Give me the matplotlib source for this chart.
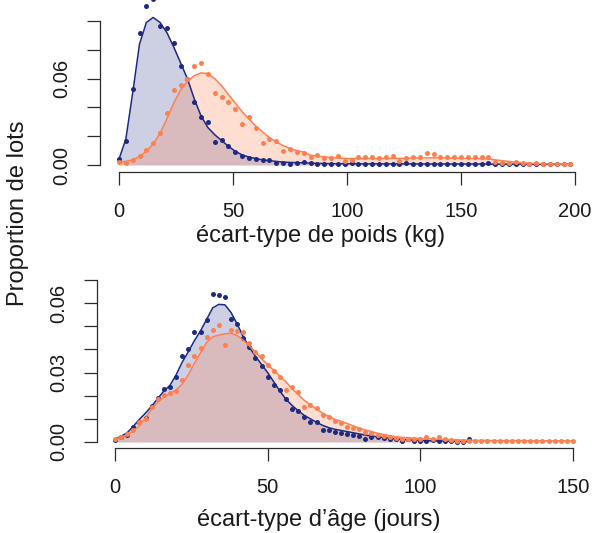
import numpy as np
import matplotlib
matplotlib.use("Agg")
import matplotlib.pyplot as plt

plt.rcParams['font.family'] = ['Liberation Sans', 'DejaVu Sans']

# ---------------- data: weight panel (step 3 kg) ----------------
poids_x = np.arange(0, 199, 3)
poids_bleu = [0.004, 0.0167, 0.053, 0.0915, 0.1106, 0.1155, 0.0968, 0.095, 0.0845, 0.069,
              0.060, 0.044, 0.033, 0.0296, 0.0157, 0.0174, 0.0134, 0.0088, 0.0063, 0.005,
              0.0042, 0.0035, 0.0035, 0.0012, 0.0012, 0.0005, 0.0012, 0.0022, 0.0015, 0.0005,
              0.0005, 0.0005, 0.0008, 0.001, 0.0015, 0.0005, 0.0005, 0.0005, 0.0005, 0.0005,
              0.0005, 0.0005, 0.0016, 0.0005, 0.0005, 0.0005, 0.0005, 0.0005, 0.0005, 0.0005,
              0.0005, 0.0005, 0.0005, 0.0005, 0.0012, 0.0004, 0.0004, 0.0004, 0.0004, 0.0004,
              0.0004, 0.0004, 0.0004, 0.0004, 0.0004, 0.0004, 0.0004]
poids_bleu_lisse = [0.004, 0.018, 0.050, 0.084, 0.099, 0.1025, 0.099, 0.092, 0.082, 0.071,
                    0.060, 0.046, 0.034, 0.026, 0.021, 0.017, 0.013, 0.0095, 0.007, 0.0055,
                    0.0045, 0.0035, 0.003, 0.0025, 0.002, 0.0018, 0.0016, 0.0015, 0.0013, 0.0011,
                    0.001, 0.0009, 0.0009, 0.0009, 0.0009, 0.0008, 0.0008, 0.0008, 0.0008, 0.0008,
                    0.0008, 0.0008, 0.0008, 0.0008, 0.0007, 0.0007, 0.0007, 0.0007, 0.0007, 0.0007,
                    0.0007, 0.0007, 0.0007, 0.0007, 0.0006, 0.0006, 0.0006, 0.0006, 0.0006, 0.0006,
                    0.0006, 0.0005, 0.0005, 0.0005, 0.0005, 0.0005, 0.0005]
poids_orange = [0.0023, 0.0016, 0.0035, 0.0063, 0.0104, 0.0155, 0.022, 0.036, 0.052, 0.0556,
                0.0597, 0.069, 0.071, 0.063, 0.050, 0.047, 0.044, 0.039, 0.0285, 0.033,
                0.026, 0.015, 0.0183, 0.017, 0.010, 0.011, 0.0092, 0.008, 0.0055, 0.0067,
                0.0048, 0.0048, 0.006, 0.003, 0.0035, 0.0058, 0.0058, 0.0058, 0.0046, 0.0058,
                0.0063, 0.003, 0.005, 0.0053, 0.0058, 0.0086, 0.0074, 0.0053, 0.0058, 0.0053,
                0.0058, 0.0053, 0.0058, 0.0053, 0.0053, 0.0023, 0.0016, 0.0016, 0.0023, 0.0012,
                0.0007, 0.0016, 0.0007, 0.0007, 0.0007, 0.0007, 0.0005]
poids_orange_lisse = [0.002, 0.0025, 0.0035, 0.006, 0.0095, 0.0145, 0.022, 0.032, 0.043, 0.052,
                      0.058, 0.062, 0.064, 0.0635, 0.060, 0.055, 0.049, 0.043, 0.037, 0.032,
                      0.027, 0.023, 0.019, 0.016, 0.0135, 0.0115, 0.010, 0.009, 0.0068, 0.0062,
                      0.0056, 0.0052, 0.0048, 0.0046, 0.0045, 0.0045, 0.0045, 0.0045, 0.0045, 0.0046,
                      0.0046, 0.0046, 0.0047, 0.0048, 0.0049, 0.005, 0.005, 0.0049, 0.0048, 0.0047,
                      0.0046, 0.0046, 0.0045, 0.0044, 0.0042, 0.0036, 0.003, 0.0025, 0.002, 0.0015,
                      0.0012, 0.001, 0.0009, 0.0008, 0.0007, 0.0006, 0.0006]

# ---------------- data: age panel (step 2 days) ----------------
age_x = np.arange(0, 151, 2)
age_bleu = [0.001, 0.002, 0.003, 0.0063, 0.0088, 0.0102, 0.0156, 0.019, 0.0228, 0.0239,
            0.028, 0.0372, 0.0402, 0.0477, 0.0474, 0.0527, 0.0638, 0.0636, 0.0625, 0.053,
            0.051, 0.0448, 0.041, 0.0364, 0.0328, 0.0282, 0.0246, 0.0225, 0.0185, 0.0141,
            0.0135, 0.0109, 0.0085, 0.0085, 0.0052, 0.0052, 0.0045, 0.0038, 0.0036, 0.003,
            0.0027, 0.0012, 0.0023, 0.002, 0.0017, 0.0012, 0.0012, 0.0003, 0.0012, 0.0005,
            0.0005, 0.0005, 0.0008, 0.0005, 0.0005, 0.0003, 0.0, 0.0, 0.0012]
age_bleu_lisse = [0.0012, 0.0025, 0.004, 0.0068, 0.0098, 0.0125, 0.0155, 0.0188, 0.022, 0.0245,
                  0.029, 0.0345, 0.039, 0.0438, 0.048, 0.053, 0.058, 0.0595, 0.0593, 0.056,
                  0.051, 0.0455, 0.041, 0.037, 0.0335, 0.030, 0.026, 0.022, 0.0185, 0.0158,
                  0.0135, 0.0115, 0.010, 0.0085, 0.0072, 0.0062, 0.0055, 0.005, 0.0045, 0.004,
                  0.0035, 0.003, 0.0026, 0.0022, 0.0019, 0.0016, 0.0013, 0.0011, 0.0009, 0.0008,
                  0.0007, 0.0006, 0.0005, 0.0005, 0.0004, 0.0003, 0.0003, 0.0002, 0.0002]
age_orange = [0.0012, 0.0023, 0.0035, 0.0052, 0.0085, 0.0100, 0.0150, 0.0185, 0.0203, 0.0213,
              0.0222, 0.0268, 0.0333, 0.0372, 0.0405, 0.0455, 0.0484, 0.0506, 0.0418, 0.0486,
              0.048, 0.0474, 0.043, 0.039, 0.037, 0.0333, 0.0307, 0.028, 0.0225, 0.0236,
              0.0217, 0.0153, 0.0158, 0.0146, 0.0117, 0.0107, 0.0092, 0.008, 0.0066, 0.0059,
              0.0055, 0.0042, 0.0038, 0.003, 0.0025, 0.0022, 0.0018, 0.0014, 0.0012, 0.0012,
              0.0015, 0.002, 0.0015, 0.0023, 0.0015, 0.001, 0.0005, 0.0005, 0.0005, 0.0005,
              0.0005, 0.0005, 0.0005, 0.0005, 0.0005, 0.0005, 0.0005, 0.0005, 0.0005, 0.0005,
              0.0005, 0.0005, 0.0005, 0.0005, 0.0005, 0.0005]
age_orange_lisse = [0.0012, 0.002, 0.003, 0.0048, 0.007, 0.0105, 0.0142, 0.0172, 0.0193, 0.021,
                    0.0225, 0.025, 0.029, 0.034, 0.0385, 0.043, 0.0455, 0.0462, 0.0468, 0.047,
                    0.046, 0.044, 0.0415, 0.039, 0.036, 0.0335, 0.031, 0.0285, 0.026, 0.023,
                    0.0205, 0.018, 0.016, 0.0142, 0.0125, 0.011, 0.0098, 0.009, 0.008, 0.007,
                    0.006, 0.0052, 0.0045, 0.0038, 0.0032, 0.0027, 0.0023, 0.002, 0.0018, 0.0016,
                    0.0015, 0.0014, 0.0013, 0.0012, 0.0011, 0.001, 0.0009, 0.0008, 0.0008, 0.0007,
                    0.0007, 0.0007, 0.0006, 0.0006, 0.0006, 0.0006, 0.0006, 0.0006, 0.0005, 0.0005,
                    0.0005, 0.0005, 0.0005, 0.0005, 0.0005, 0.0005]

BLEU = '#1d2a80'
ORANGE = '#ff7f4f'
AXE = '#2b2b2b'

W, H = 596, 533
fig = plt.figure(figsize=(W / 100, H / 100), dpi=100)


def panneau(rect, x, bleu, bleu_l, orange, orange_l, xlim, ylim, xticks, yticks, ylabels):
    l, t, r, b = rect
    ax = fig.add_axes([l / W, 1 - b / H, (r - l) / W, (b - t) / H])
    xb = x[:len(bleu)]
    ax.fill_between(xb, 0, bleu_l, color=BLEU, alpha=0.22, lw=0)
    ax.fill_between(x, 0, orange_l, color=ORANGE, alpha=0.25, lw=0)
    ax.plot(xb, bleu_l, color=BLEU, lw=1.1)
    ax.plot(xb, bleu, 'o', color=BLEU, ms=3.6, mew=0)
    ax.plot(x, orange_l, color=ORANGE, lw=1.1)
    ax.plot(x, orange, 'o', color=ORANGE, ms=3.6, mew=0)
    ax.set_xlim(*xlim)
    ax.set_ylim(*ylim)
    for s in ['top', 'right']:
        ax.spines[s].set_visible(False)
    for s in ['left', 'bottom']:
        ax.spines[s].set_color(AXE)
        ax.spines[s].set_linewidth(0.9)
    ax.spines['bottom'].set_bounds(xticks[0], xticks[-1])
    ax.spines['left'].set_bounds(yticks[0], yticks[-1])
    ax.set_xticks(xticks)
    ax.set_xticklabels([str(v) for v in xticks])
    ax.set_yticks(yticks)
    ax.set_yticklabels(ylabels, rotation=90, va='center')
    ax.tick_params(axis='both', length=9.4, width=0.9, color=AXE,
                   labelsize=14.5, labelcolor='#1a1a1a')
    ax.tick_params(axis='x', pad=12)
    ax.tick_params(axis='y', pad=11.5)
    ax.patch.set_alpha(0)
    return ax


panneau((100, 0, 593, 172), poids_x, poids_bleu, poids_bleu_lisse,
        poids_orange, poids_orange_lisse,
        (-8.33, 207.9), (-0.00486, 0.1146),
        [0, 50, 100, 150, 200], [0, 0.02, 0.04, 0.06, 0.08, 0.10],
        ['0.00', '', '', '0.06', '', ''])

panneau((97, 272, 591, 448), age_x, age_bleu, age_bleu_lisse,
        age_orange, age_orange_lisse,
        (-5.9, 155.9), (-0.0026, 0.0735),
        [0, 50, 100, 150], [0, 0.01, 0.02, 0.03, 0.04, 0.05, 0.06, 0.07],
        ['0.00', '', '', '0.03', '', '', '0.06', ''])

fig.text(321 / W, 1 - 236 / H, 'écart-type de poids (kg)', ha='center', va='center',
         fontsize=17, color='#1a1a1a')
fig.text(319 / W, 1 - 520 / H, 'écart-type d\u2019âge (jours)', ha='center', va='center',
         fontsize=17, color='#1a1a1a')
fig.text(18 / W, 1 - 213 / H, 'Proportion de lots', ha='center', va='center',
         rotation=90, fontsize=17, color='#1a1a1a')

fig.savefig('out.png', dpi=100)
